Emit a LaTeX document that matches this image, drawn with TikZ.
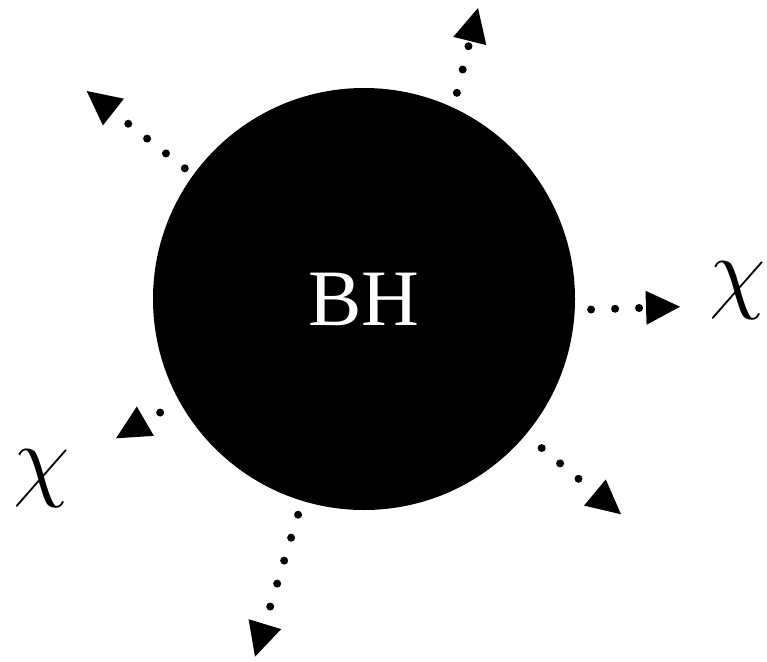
\documentclass[tikz,border=0pt]{standalone}
\usepackage{fix-cm}
\usepackage{amsmath}
\usepackage{fontspec}
\newfontfamily\holefont{Liberation Serif}
\usepackage{tikz}
\usetikzlibrary{arrows.meta,positioning}

\tikzset{
  hole/.style={circle,fill=black,minimum size=422pt,inner sep=0pt,outer sep=0pt,
    text=white,font=\holefont\fontsize{80}{82}\selectfont},
  emit/.style={line width=8pt,line cap=round,dash pattern=on 0pt off 24pt,
    -{Triangle[length=34pt,width=34pt,line width=0pt]}},
  lbl/.style={inner sep=0pt,anchor=base,font=\fontsize{92}{92}\selectfont}
}

\begin{document}
\begin{tikzpicture}[x=1pt,y=-1pt]
    \useasboundingbox (0,0) rectangle (767,661);
    \node[hole] (bh) at (364,299) {BH};

    \coordinate (tipN) at (478,8);
    \coordinate (tipNW) at (86.7,91);
    \coordinate (tipE) at (680,306.7);
    \coordinate (tipW) at (116,438.3);
    \coordinate (tipSE) at (621,514.3);
    \coordinate (tipS) at (255,656.7);

    \draw[emit,dash phase=8.6pt] (bh.65.1) -- (tipN);
    \draw[emit,dash phase=13.2pt] (bh.144.3) -- (tipNW);
    \draw[emit,dash phase=7.6pt] (bh.-3.4) -- (tipE);
    \draw[emit,dash phase=1.65pt] (bh.-151.1) -- (tipW);
    \draw[emit,dash phase=3.1pt] (bh.-40.8) -- (tipSE);
    \draw[emit,dash phase=9.45pt] (bh.-107.4) -- (tipS);

    \node[lbl] (chiE) at (737.5,301) {$\chi$};
    \node[lbl] (chiW) at (41.5,489) {$\chi$};
\end{tikzpicture}
\end{document}
